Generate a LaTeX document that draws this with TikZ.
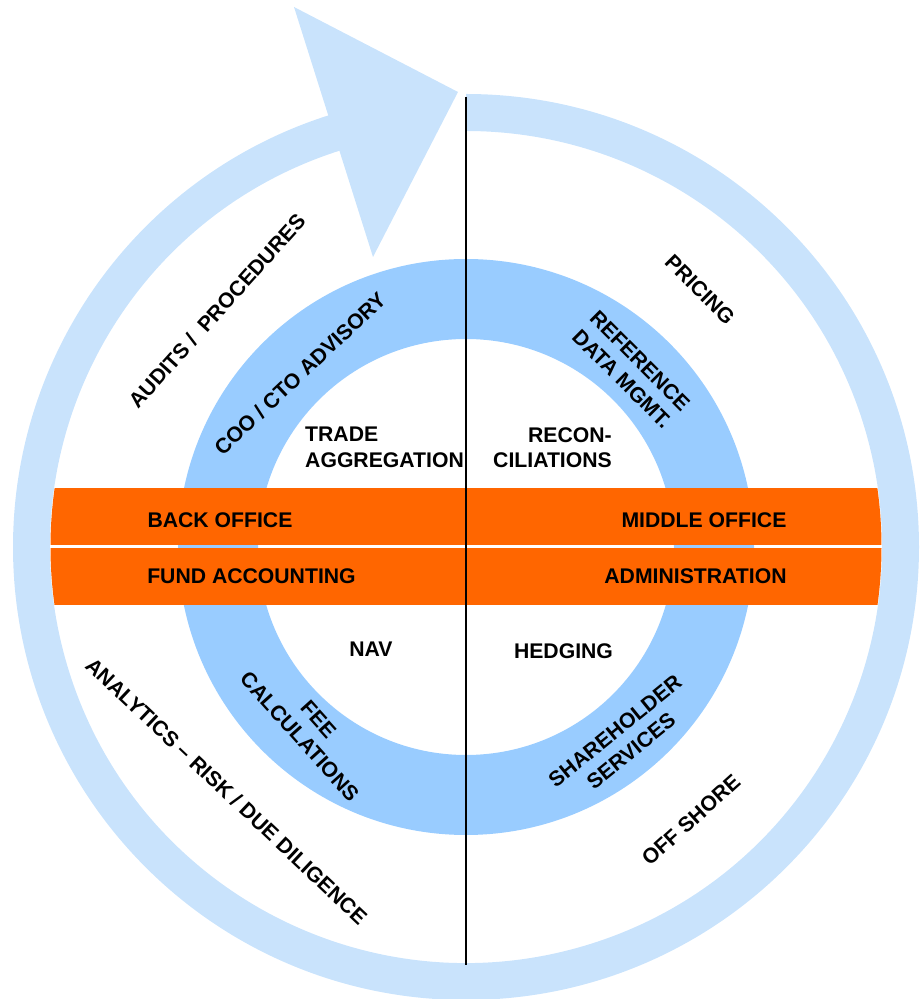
\documentclass[tikz,border=0pt]{standalone}
\usepackage{fontspec}
\setmainfont{Liberation Sans}
\definecolor{ringlight}{RGB}{201,227,252}
\definecolor{ringmid}{RGB}{153,204,255}
\definecolor{bandorange}{RGB}{255,102,0}
\begin{document}
\begin{tikzpicture}[x=1pt,y=1pt,
  lbl/.style={font=\fontsize{21.2}{25.5}\selectfont\bfseries, inner sep=0pt, text=black},
  band/.style={fill=bandorange}]
\useasboundingbox (0,0) rectangle (919,999);
\coordinate (c) at (466,452);
% outer ring with arrow
\fill[ringlight] ([shift={(90:453)}]c) arc[start angle=90, end angle=-253, radius=453]
  -- ([shift={(-253:416)}]c) arc[start angle=-253, end angle=90, radius=416] -- cycle;
\fill[ringlight] (458,907) -- (294,992) -- (373,742) -- cycle;
% inner ring
\fill[ringmid, even odd rule] (c) circle[radius=288] (c) circle[radius=208];
% bands
\begin{scope}
  \clip (c) circle[radius=415.5];
  \fill[band] (0,453.5) rectangle (919,511);
  \fill[band] (0,394) rectangle (919,450.5);
\end{scope}
% vertical line
\coordinate (vtop) at (466,902);
\coordinate (vbot) at (466,34);
\draw[line width=1.6pt] (vtop) -- (vbot);
% outer texts
\node[lbl, rotate=48] (audits) at (217,688) {AUDITS /\ \ PROCEDURES};
\node[lbl, rotate=-45] (pricing) at (700,709) {PRICING};
\node[lbl, rotate=-43.3] (analytics) at (226.5,208) {ANALYTICS -- RISK / DUE DILIGENCE};
\node[lbl, rotate=42] (offshore) at (691,179) {OFF SHORE};
% ring texts
\node[lbl, rotate=43.3] (coo) at (300,625.5) {COO / CTO ADVISORY};
\node[lbl, rotate=-45, align=center] (refdata) at (631,629) {REFERENCE\\DATA MGMT.};
\node[lbl, rotate=-48, align=center] (fee) at (309,271) {FEE\\CALCULATIONS};
\node[lbl, rotate=39, align=center] (share) at (623,258) {SHAREHOLDER\\SERVICES};
% inner texts
\node[lbl, anchor=west, align=left] (trade) at (305,551.5) {TRADE\\AGGREGATION};
\node[lbl, anchor=east, align=right] (recon) at (612,551.5) {RECON-\\CILIATIONS};
\node[lbl] (nav) at (371,350) {NAV};
\node[lbl] (hedging) at (563.5,348) {HEDGING};
% band texts
\node[lbl] (back) at (220,479) {BACK OFFICE};
\node[lbl] (fund) at (251.5,423) {FUND ACCOUNTING};
\node[lbl] (middle) at (704,479) {MIDDLE OFFICE};
\node[lbl] (admin) at (695.5,423) {ADMINISTRATION};
\end{tikzpicture}
\end{document}
